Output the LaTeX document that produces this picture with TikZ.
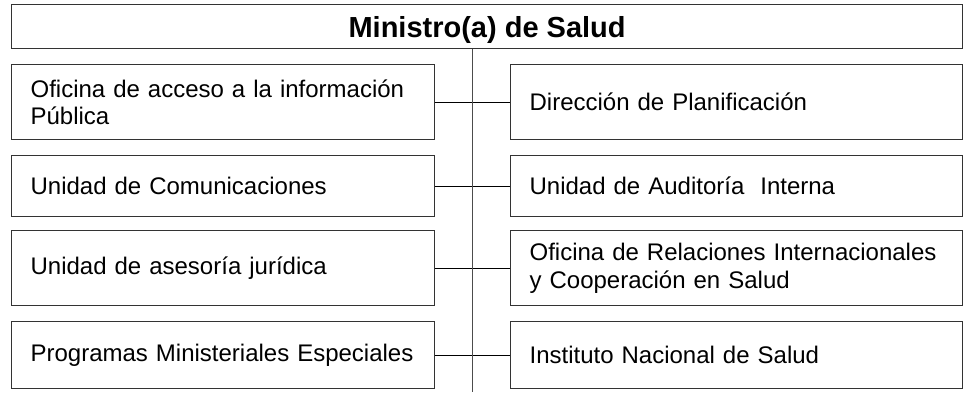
\documentclass[tikz,border=0pt]{standalone}
\usepackage{fontspec}
\setmainfont{Liberation Sans}
\begin{document}
\begin{tikzpicture}[x=1pt,y=-1pt,
  box/.style={draw=black!80,line width=1.2pt,anchor=north west,inner xsep=19pt,inner ysep=0pt,align=left,font=\fontsize{24}{27.6}\selectfont},
  leftbox/.style={box,text width=385pt,minimum width=423pt},
  rightbox/.style={box,text width=414pt,minimum width=452pt},
  link/.style={black,line width=1pt}]
\useasboundingbox (0,0) rectangle (966,392);
\node[draw=black!80,line width=1.2pt,anchor=north west,minimum width=951pt,minimum height=44pt,inner sep=0pt,text height=21pt,text depth=0pt,font=\bfseries\fontsize{29}{33}\selectfont](min) at (11,4){Ministro(a) de Salud};
\node[leftbox,minimum height=75pt](l1) at (11,64){Oficina de acceso a la información\\Pública};
\node[rightbox,minimum height=75pt](r1) at (510,64){Dirección de Planificación};
\node[leftbox,minimum height=61pt](l2) at (11,155){Unidad de Comunicaciones};
\node[rightbox,minimum height=61pt](r2) at (510,155){Unidad de Auditoría\ \ Interna};
\node[leftbox,minimum height=75pt](l3) at (11,230){Unidad de asesoría jurídica};
\node[rightbox,minimum height=75pt](r3) at (510,230){Oficina de Relaciones Internacionales\\y Cooperación en Salud};
\node[leftbox,minimum height=67pt](l4) at (11,321){Programas Ministeriales Especiales};
\node[rightbox,minimum height=67pt](r4) at (510,321){Instituto Nacional de Salud};
\draw[link](l1.east)--(r1.west);
\draw[link](l2.east)--(r2.west);
\draw[link](l3.east)--(r3.west);
\draw[link](l4.east)--(r4.west);
\coordinate(spine) at (472,392);
\draw[link,black!70](min.south -| spine)--(spine);
\end{tikzpicture}
\end{document}
